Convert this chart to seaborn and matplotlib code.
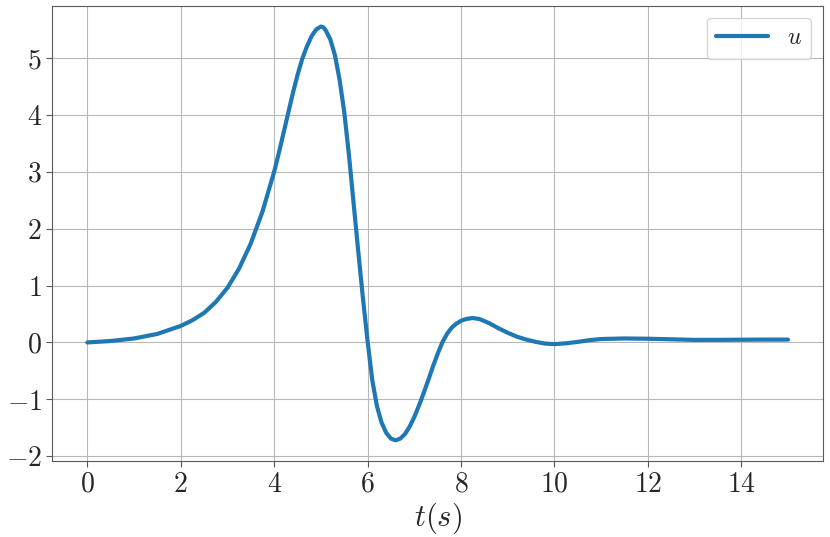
import numpy as np
import matplotlib
matplotlib.use("Agg")
import matplotlib.pyplot as plt
import seaborn as sns

# time samples (s) and control signal u
t = [0.0, 0.5, 1.0, 1.5, 2.0, 2.25, 2.5, 2.75, 3.0, 3.25, 3.5, 3.75,
     4.0, 4.1, 4.2, 4.3, 4.4, 4.5, 4.6, 4.7, 4.8, 4.9, 5.0, 5.05,
     5.1, 5.2, 5.3, 5.4, 5.5, 5.6, 5.7, 5.8, 5.9, 6.0, 6.1, 6.2,
     6.3, 6.4, 6.5, 6.6, 6.7, 6.8, 6.9, 7.0, 7.1, 7.2, 7.3, 7.4,
     7.5, 7.6, 7.7, 7.8, 7.9, 8.0, 8.1, 8.25, 8.4, 8.6, 8.8, 9.0,
     9.2, 9.4, 9.6, 9.8, 10.0, 10.25, 10.5, 10.75, 11.0, 11.5, 12.0, 12.5,
     13.0, 13.5, 14.0, 14.5, 15.0]
u = [0.0, 0.025, 0.07, 0.15, 0.29, 0.39, 0.52, 0.71, 0.96, 1.3, 1.74, 2.3,
     3.0, 3.33, 3.68, 4.03, 4.38, 4.7, 4.98, 5.2, 5.38, 5.5, 5.55, 5.54,
     5.49, 5.33, 5.05, 4.62, 4.05, 3.3, 2.45, 1.6, 0.78, 0.02, -0.66, -1.12,
     -1.41, -1.59, -1.69, -1.72, -1.69, -1.61, -1.48, -1.31, -1.11, -0.89, -0.66, -0.42,
     -0.2, 0.0, 0.15, 0.26, 0.33, 0.38, 0.41, 0.43, 0.41, 0.34, 0.25, 0.17,
     0.1, 0.05, 0.01, -0.02, -0.03, -0.015, 0.01, 0.04, 0.06, 0.07, 0.065, 0.055,
     0.045, 0.045, 0.048, 0.05, 0.05]

sns.set_style("whitegrid", {"axes.edgecolor": "0.35", "grid.color": "0.72",
                            "xtick.bottom": True, "ytick.left": True})
plt.rcParams["font.family"] = "serif"
plt.rcParams["font.serif"] = ["cmr10"]
plt.rcParams["mathtext.fontset"] = "cm"
plt.rcParams["axes.formatter.use_mathtext"] = True

fig = plt.figure(figsize=(8.3, 5.37), dpi=100)
ax = fig.add_axes([0.063, 0.1415, 0.9286, 0.8475])

sns.lineplot(x=t, y=u, ax=ax, color="#1f77b4", linewidth=3, label="$u$")

ax.set_xticks([0, 2, 4, 6, 8, 10, 12, 14])
ax.set_yticks([-2, -1, 0, 1, 2, 3, 4, 5])
ax.tick_params(axis="both", labelsize=20, length=4, color="0.35")
ax.set_xlabel("$t(s)$", fontsize=22, labelpad=2)
ax.set_ylabel("")
ax.grid(True, linewidth=0.8)
ax.margins(x=0.05, y=0.05)
ax.legend(loc="upper right", fontsize=17, handlelength=2.2)

fig.savefig("out.png", dpi=100)
